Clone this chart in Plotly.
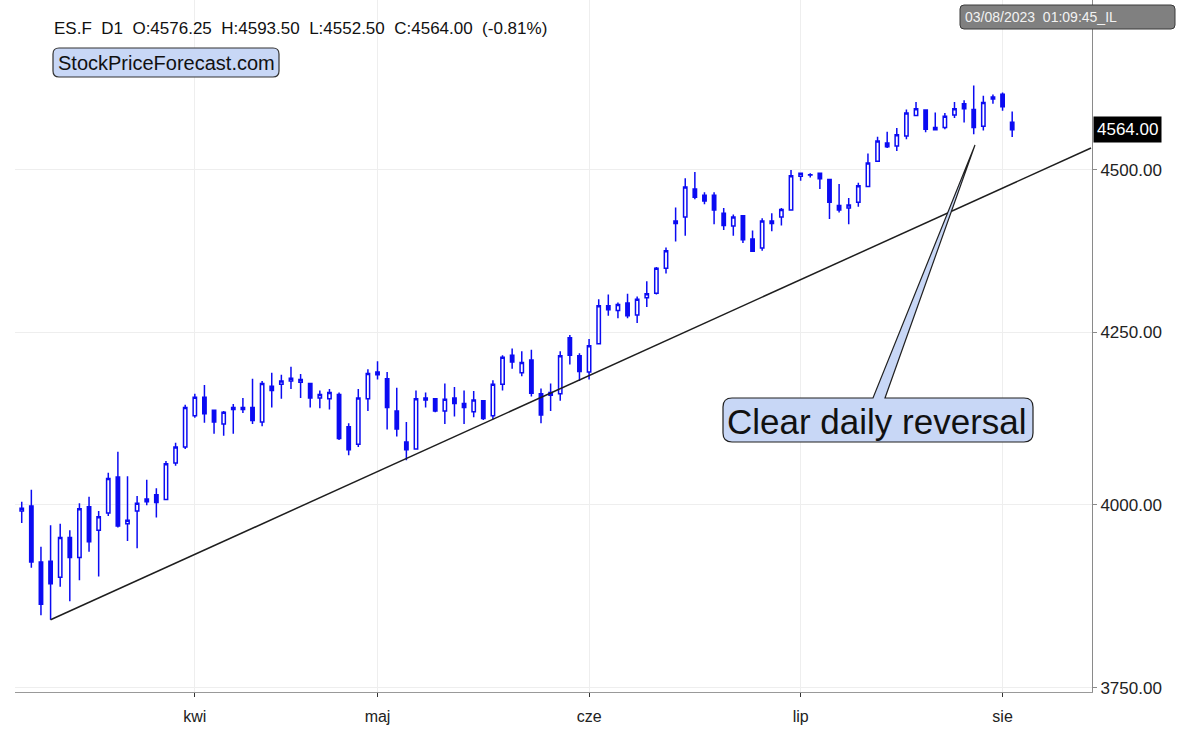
import numpy as np
import pandas as pd
import plotly.graph_objects as go

# ---------------- data ----------------
dates = pd.bdate_range("2023-03-08", "2023-08-02", freq="C",
                       holidays=["2023-04-07", "2023-05-29"])

opens = [3991, 3998, 3920, 3921, 3899, 3954, 3926, 3997, 3964, 3988,
         4039, 3973, 3991, 4008, 4014, 4007, 4059, 4082, 4127, 4154,
         4135, 4115, 4139, 4139, 4139, 4118, 4170, 4173, 4178, 4176,
         4174, 4153, 4152, 4158, 4111, 4086, 4152, 4191, 4181, 4134,
         4089, 4079, 4150, 4152, 4134, 4153, 4145, 4133, 4149, 4127,
         4173, 4216, 4190, 4209, 4159, 4161, 4159, 4242, 4215, 4191,
         4233, 4290, 4283, 4294, 4276, 4302, 4309, 4347, 4416, 4426,
         4470, 4460, 4460, 4432, 4412, 4428, 4392, 4378, 4416, 4426,
         4437, 4490, 4492, 4495, 4485, 4444, 4440, 4449, 4474, 4514,
         4543, 4538, 4554, 4587, 4596, 4568, 4568, 4588, 4606, 4597,
         4570, 4614, 4621.5, 4576.25]
highs = [4004, 4021, 3941, 3971, 3973, 3964, 4002, 4011, 3991, 4045,
         4075, 4040, 4012, 4035, 4023, 4062, 4088, 4143, 4159, 4172,
         4136, 4134, 4144, 4153, 4181, 4178, 4190, 4187, 4199, 4188,
         4175, 4164, 4166, 4161, 4116, 4166, 4195, 4207, 4191, 4168,
         4118, 4164, 4161, 4153, 4174, 4169, 4164, 4163, 4150, 4179,
         4216, 4226, 4222, 4224, 4167, 4174, 4222, 4246, 4219, 4240,
         4300, 4307, 4295, 4308, 4304, 4327, 4349, 4379, 4441, 4487,
         4497, 4465, 4465, 4440, 4430, 4429, 4405, 4424, 4432, 4440,
         4500, 4496, 4495, 4496, 4486, 4478, 4456, 4480, 4526, 4553,
         4561, 4567, 4597, 4609, 4597, 4592, 4591, 4609, 4612, 4636,
         4619, 4621, 4624.25, 4593.5]
lows = [3974, 3912, 3847, 3841, 3886, 3866, 3895, 3934, 3900, 3984,
        3968, 3949, 3939, 3999, 3982, 4006, 4055, 4079, 4124, 4117,
        4101, 4098, 4101, 4131, 4115, 4112, 4139, 4152, 4166, 4153,
        4139, 4138, 4136, 4092, 4070, 4082, 4134, 4180, 4107, 4097,
        4063, 4078, 4139, 4132, 4115, 4126, 4115, 4125, 4121, 4122,
        4164, 4196, 4185, 4155, 4116, 4134, 4149, 4202, 4178, 4180,
        4232, 4275, 4271, 4271, 4264, 4288, 4307, 4339, 4388, 4397,
        4454, 4446, 4415, 4406, 4397, 4386, 4372, 4374, 4404, 4413,
        4437, 4483, 4488, 4470, 4423, 4433, 4415, 4442, 4473, 4514,
        4535, 4530, 4549, 4586, 4560, 4563, 4565, 4583, 4576, 4557,
        4563, 4606, 4594.75, 4552.5]
closes = [3995, 3920, 3862, 3890, 3954, 3926, 3994, 3948, 3983, 4037,
          3970, 3978, 4002, 4004, 4003, 4058, 4082, 4139, 4154, 4130,
          4118, 4132, 4136, 4136, 4120, 4174, 4164, 4178, 4182, 4180,
          4153, 4158, 4161, 4094, 4078, 4153, 4189, 4187, 4139, 4108,
          4078, 4152, 4153, 4134, 4151, 4145, 4139, 4150, 4123, 4173,
          4213, 4206, 4205, 4160, 4128, 4157, 4215, 4216, 4192, 4230,
          4290, 4284, 4292, 4275, 4300, 4308, 4347, 4374, 4420, 4473,
          4457, 4451, 4437, 4413, 4426, 4391, 4373, 4420, 4420, 4438,
          4491, 4495, 4492.5, 4486, 4449, 4437, 4445, 4475, 4511, 4546,
          4537, 4556, 4591, 4598, 4565, 4564, 4586, 4598, 4598, 4568,
          4608, 4617, 4601.25, 4564.0]

month_labels = {4: "kwi", 5: "maj", 6: "cze", 7: "lip", 8: "sie"}
y_ticks = [3750, 4000, 4250, 4500]

trend_x = [3, 111.2]
trend_y = [lows[3], 4535]

symbol = "ES.F"
timeframe = "D1"
timestamp = "03/08/2023  01:09:45_IL"
site = "StockPriceForecast.com"
callout_text = "Clear daily reversal"

# ---------------- layout helpers ----------------
W, H = 1181, 735
ML, MR, MT, MB = 15, 89, 0, 43
PW, PH = W - ML - MR, H - MT - MB
FONT = "Liberation Sans, Arial, Helvetica, sans-serif"
BLUE = "#0b0bf2"


def px(x):
    return (x - ML) / PW


def py(y):
    return 1 - (y - MT) / PH


def rrect_path(x0, y0, x1, y1, r, wedge=None):
    s = f"M{px(x0 + r)},{py(y0)} "
    if wedge:
        a, tipx, tipy, b = wedge
        s += f"L{px(a)},{py(y0)} L{px(tipx)},{py(tipy)} L{px(b)},{py(y0)} "
    s += (f"L{px(x1 - r)},{py(y0)} Q{px(x1)},{py(y0)} {px(x1)},{py(y0 + r)} "
          f"L{px(x1)},{py(y1 - r)} Q{px(x1)},{py(y1)} {px(x1 - r)},{py(y1)} "
          f"L{px(x0 + r)},{py(y1)} Q{px(x0)},{py(y1)} {px(x0)},{py(y1 - r)} "
          f"L{px(x0)},{py(y0 + r)} Q{px(x0)},{py(y0)} {px(x0 + r)},{py(y0)} Z")
    return s


x = np.arange(len(dates))
tickvals = [i for i in range(1, len(dates)) if dates[i].month != dates[i - 1].month]
ticktext = [month_labels[dates[i].month] for i in tickvals]

fig = go.Figure()
fig.add_trace(go.Candlestick(
    x=x, open=opens, high=highs, low=lows, close=closes,
    increasing=dict(line=dict(color=BLUE, width=1.5), fillcolor="white"),
    decreasing=dict(line=dict(color=BLUE, width=1.5), fillcolor=BLUE),
    whiskerwidth=0, hoverinfo="skip", showlegend=False,
))
fig.add_trace(go.Scatter(
    x=trend_x, y=trend_y, mode="lines",
    line=dict(color="#1e1e1e", width=1.5), hoverinfo="skip", showlegend=False,
))

o, h, l, c = opens[-1], highs[-1], lows[-1], closes[-1]
pct = (c / closes[-2] - 1) * 100
sp = " \u00a0"
header = (f"{symbol}{sp}{timeframe}{sp}O:{o:.2f}{sp}H:{h:.2f}{sp}"
          f"L:{l:.2f}{sp}C:{c:.2f}{sp}({pct:.2f}%)")

shapes = [
    dict(type="path", xref="paper", yref="paper", layer="above",
         path=rrect_path(723, 398, 1033, 442, 9, wedge=(873, 975, 145, 885)),
         fillcolor="#c8d7f6", line=dict(color="#202020", width=1.2)),
    dict(type="path", xref="paper", yref="paper", layer="above",
         path=rrect_path(53, 48, 279, 77, 6),
         fillcolor="#c8d7f6", line=dict(color="#333333", width=1.2)),
    dict(type="path", xref="paper", yref="paper", layer="above",
         path=rrect_path(960, 5, 1175, 29, 4),
         fillcolor="#808080", line=dict(color="#3a3a3a", width=1)),
]

annotations = [
    dict(xref="paper", yref="paper", x=px(877), y=py(421), text=callout_text,
         showarrow=False, font=dict(family=FONT, size=35, color="#111111"),
         xanchor="center", yanchor="middle"),
    dict(xref="paper", yref="paper", x=px(166), y=py(62.5), text=site,
         showarrow=False, font=dict(family=FONT, size=20, color="#111111"),
         xanchor="center", yanchor="middle"),
    dict(xref="paper", yref="paper", x=px(52), y=py(28), text=header,
         showarrow=False, font=dict(family=FONT, size=17, color="#111111"),
         xanchor="left", yanchor="middle"),
    dict(xref="paper", yref="paper", x=px(963), y=py(17), text=timestamp.replace("  ", " \u00a0"),
         showarrow=False, font=dict(family=FONT, size=14, color="#f2f2f2"),
         xanchor="left", yanchor="middle"),
    dict(xref="paper", yref="y", x=1, y=np.log10(c), text=f"{c:.2f}",
         showarrow=False, font=dict(family=FONT, size=17, color="white"),
         xanchor="left", yanchor="middle", xshift=1,
         bgcolor="black", borderpad=3),
]

fig.update_layout(
    width=W, height=H,
    margin=dict(l=ML, r=MR, t=MT, b=MB),
    paper_bgcolor="white", plot_bgcolor="white",
    font=dict(family=FONT, color="#222222"),
    shapes=shapes, annotations=annotations,
    boxgap=0.5, showlegend=False,
)
fig.update_xaxes(
    range=[-0.7, 111.3], tickvals=tickvals, ticktext=ticktext,
    showgrid=True, gridcolor="#eeeeee", gridwidth=1,
    showline=True, linecolor="#999999", linewidth=1,
    ticks="outside", ticklen=4, tickcolor="#333333", ticklabelstandoff=6,
    tickfont=dict(size=16, color="#222222"),
    rangeslider=dict(visible=False), zeroline=False,
)
fig.update_yaxes(
    type="log", side="right",
    range=[np.log10(3744.6), np.log10(4777.5)],
    tickvals=y_ticks, ticktext=[f"{v:.2f}" for v in y_ticks],
    showgrid=True, gridcolor="#eeeeee", gridwidth=1,
    showline=True, linecolor="#8a8a8a", linewidth=1,
    ticks="outside", ticklen=4, tickcolor="#8a8a8a",
    tickfont=dict(size=17, color="#222222"), zeroline=False,
)

fig.write_html("out.html")
